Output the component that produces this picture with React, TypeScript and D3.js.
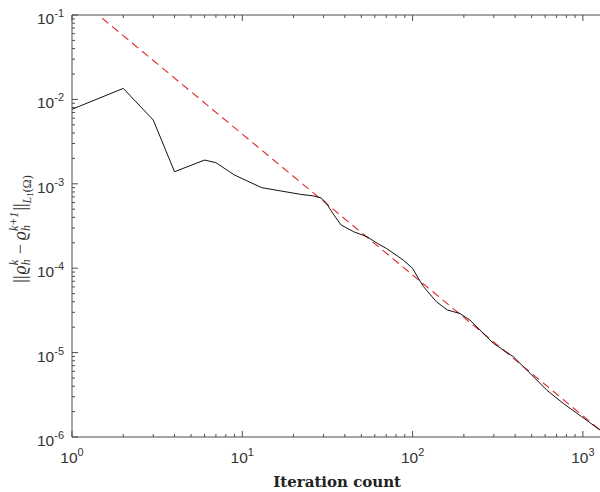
import React, { useEffect, useRef } from 'react';
import { select, scaleLog, line, range } from 'd3';

// residual history
const iterations = [1, 2, 3, 4, 6, 7, 9, 13, 22, 26, 29, 31, 34, 38, 45, 54, 62, 70, 80, 88, 100, 108, 116, 138, 160, 190, 217, 298, 390, 489, 613, 767, 984, 1260];
const residuals = [0.00764, 0.0135, 0.0057, 0.00139, 0.00191, 0.00178, 0.00127, 0.0009, 0.00075, 0.00072, 0.00068, 0.0006, 0.000447, 0.000325, 0.000271, 0.000236, 0.000197, 0.000172, 0.000143, 0.000125, 9.97e-5, 7.6e-5, 6.04e-5, 4.0e-5, 3.2e-5, 2.9e-5, 2.43e-5, 1.29e-5, 8.95e-6, 5.7e-6, 3.6e-6, 2.5e-6, 1.74e-6, 1.21e-6];

// reference slope line
const refIterations = [1, 1300];
const refValues = [0.181, 1.15e-6];

const xDecades = [0, 1, 2, 3];
const yDecades = [-1, -2, -3, -4, -5, -6];
const xLabel = 'Iteration count';

const W = 600;
const H = 492;
const left = 72;
const top = 15;
const bottom = 437;
const right = 602.3;

const AXIS = '#4d4d4d';
const TEXT = '#333333';

export default function App() {
  const labelRef = useRef<SVGGElement>(null);

  const x = scaleLog().domain([1, 1300]).range([left, right]);
  const y = scaleLog().domain([1e-6, 1e-1]).range([bottom, top]);

  const pts = iterations.map((k, i) => [k, residuals[i]] as [number, number]);
  const refPts = refIterations.map((k, i) => [k, refValues[i]] as [number, number]);
  const path = line<[number, number]>()
    .x((d) => x(d[0]))
    .y((d) => y(d[1]));

  const xMinor: number[] = [];
  xDecades.forEach((d) => range(2, 10).forEach((m) => {
    const v = m * Math.pow(10, d);
    if (v <= 1300) xMinor.push(v);
  }));
  const yMinor: number[] = [];
  yDecades.forEach((d) => {
    if (d === -1) return;
    range(2, 10).forEach((m) => yMinor.push(m * Math.pow(10, d)));
  });

  useEffect(() => {
    document.body.style.margin = '0';
    // y label built piece by piece so sub/superscripts stack
    const g = select(labelRef.current);
    g.selectAll('*').remove();
    const inner = g.append('g');
    let cx = 0;
    const put = (txt: string, size: number, dy: number, italic: boolean) => {
      const t = inner.append('text')
        .attr('x', cx)
        .attr('y', dy)
        .attr('font-size', size)
        .attr('font-style', italic ? 'italic' : 'normal')
        .text(txt);
      return (t.node() as SVGTextElement).getComputedTextLength();
    };
    const stack = (sup: string, sub: string) => {
      const a = put(sup, 12, -8, true);
      const b = put(sub, 12, 4, true);
      cx += Math.max(a, b) + 1;
    };
    cx += put('||', 18, 0, false) + 1;
    cx += put('ϱ', 18, 0, true);
    stack('k', 'h');
    cx += 4;
    cx += put('−', 18, 0, false) + 4;
    cx += put('ϱ', 18, 0, true);
    stack('k+1', 'h');
    cx += put('||', 18, 0, false);
    cx += put('L', 12, 5, true);
    cx += put('1', 9, 7, false);
    cx += put('(Ω)', 12, 5, false);
    inner.attr('transform', `translate(${-cx / 2},0)`);
  }, []);

  return (
    <svg width={W} height={H} style={{ display: 'block' }} fontFamily="'Liberation Sans', Arial, sans-serif">
      <rect width={W} height={H} fill="#fff" />
      <defs>
        <clipPath id="plot">
          <rect x={left} y={top} width={right - left} height={bottom - top} />
        </clipPath>
      </defs>

      <g clipPath="url(#plot)">
        <path d={path(refPts) || ''} fill="none" stroke="#e3262b" strokeWidth={1.1} strokeDasharray="8,5" />
        <path d={path(pts) || ''} fill="none" stroke="#111" strokeWidth={1} />
      </g>

      {/* axes box */}
      <g stroke={AXIS} strokeWidth={1} fill="none">
        <line x1={left} x2={left} y1={top} y2={bottom} />
        <line x1={left} x2={right} y1={bottom} y2={bottom} />
        <line x1={left} x2={right} y1={top} y2={top} />
        <line x1={right} x2={right} y1={top} y2={bottom} />
        {xDecades.map((d) => {
          const px = x(Math.pow(10, d));
          return (
            <g key={'xm' + d}>
              <line x1={px} x2={px} y1={bottom} y2={bottom - 6} />
              <line x1={px} x2={px} y1={top} y2={top + 6} />
            </g>
          );
        })}
        {xMinor.map((v) => (
          <g key={'xn' + v}>
            <line x1={x(v)} x2={x(v)} y1={bottom} y2={bottom - 3} />
            <line x1={x(v)} x2={x(v)} y1={top} y2={top + 3} />
          </g>
        ))}
        {yDecades.map((d) => {
          const py = y(Math.pow(10, d));
          return <line key={'ym' + d} x1={left} x2={left + 6} y1={py} y2={py} />;
        })}
        {yMinor.map((v) => (
          <line key={'yn' + v} x1={left} x2={left + 3} y1={y(v)} y2={y(v)} />
        ))}
      </g>

      {/* tick labels */}
      <g fill={TEXT} fontSize={15.5}>
        {xDecades.map((d) => (
          <text key={'xl' + d} x={x(Math.pow(10, d))} y={463} textAnchor="middle">
            10<tspan dy={-7} fontSize={11}>{String(d)}</tspan>
          </text>
        ))}
        {yDecades.map((d) => (
          <text key={'yl' + d} x={64} y={y(Math.pow(10, d)) + 9} textAnchor="end">
            10<tspan dy={-7} fontSize={11}>{String(d)}</tspan>
          </text>
        ))}
      </g>

      <text x={(left + right) / 2} y={487} textAnchor="middle" fontFamily="'DejaVu Serif', serif" fontWeight="bold" fontSize={15} fill="#222">
        {xLabel}
      </text>

      <g transform="translate(26,229) rotate(-90)" fill="#333" fontFamily="'Liberation Serif', 'DejaVu Serif', serif">
        <g ref={labelRef} />
      </g>
    </svg>
  );
}
